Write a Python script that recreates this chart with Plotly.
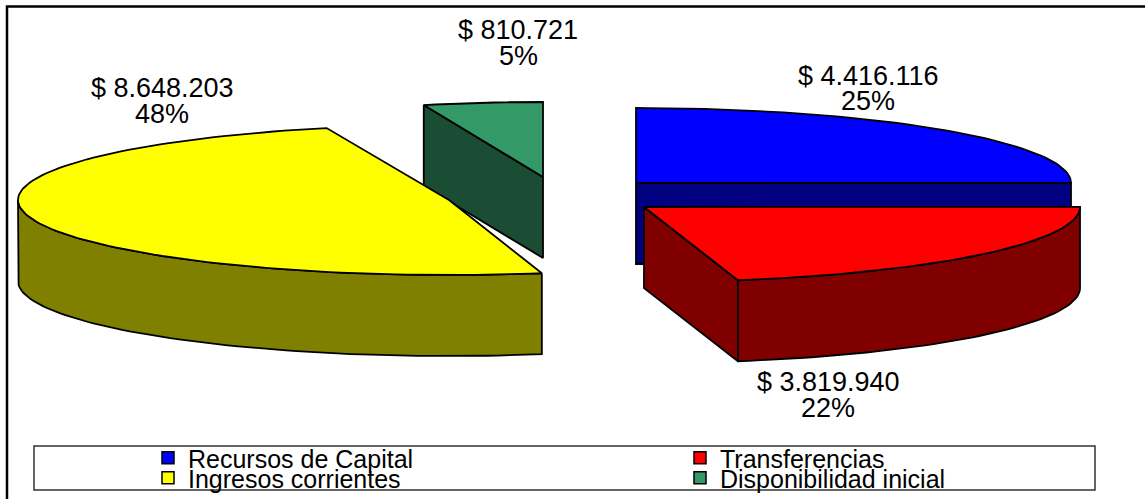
import math
import plotly.graph_objects as go

# ---- data ----
categories = ["Recursos de Capital", "Transferencias", "Ingresos corrientes", "Disponibilidad inicial"]
values = [4416116, 3819940, 8648203, 810721]
value_labels = ["$ 4.416.116", "$ 3.819.940", "$ 8.648.203", "$ 810.721"]
percent_labels = ["25%", "22%", "48%", "5%"]

# ---- styles and layout ----
W, H = 1145, 499
top_colors = ["#0000FF", "#FF0000", "#FFFF00", "#339966"]
wall_colors = ["#000080", "#800000", "#808000", "#1A4D33"]
centers = [(636, 183), (644, 207), (449, 200), (543, 177)]
radii = [435, 436, 431, 420]
RY, DEPTH = 75, 81
draw_order = [3, 2, 0, 1]
label_pos = [(868, 75.5, 101), (828, 382, 408), (162, 87.5, 114), (518, 30, 56)]
legend_pos = [(148, 458), (680, 458), (148, 478), (680, 478)]
FONT = "Liberation Sans"
LW = 1.8


def pt(c, rx, deg, drop=0):
    a = math.radians(deg)
    return c[0] + rx * math.sin(a), c[1] - RY * math.cos(a) + drop


def arc(c, rx, a0, a1, drop=0):
    n = max(2, int(abs(a1 - a0) / 1.5) + 1)
    return [pt(c, rx, a0 + (a1 - a0) * i / (n - 1), drop) for i in range(n)]


def poly(fig, points, fill):
    xs = [p[0] for p in points] + [points[0][0]]
    ys = [p[1] for p in points] + [points[0][1]]
    fig.add_trace(go.Scatter(x=xs, y=ys, mode="lines", fill="toself", fillcolor=fill,
                             line=dict(color="black", width=LW), showlegend=False,
                             hoverinfo="skip"))


fig = go.Figure()
total = sum(values)
angles = [0]
for v in values:
    angles.append(angles[-1] + 360 * v / total)

for i in draw_order:
    c = centers[i]
    rx = radii[i]
    a0, a1 = angles[i], angles[i + 1]
    lo, hi = max(a0, 90), min(a1, 270)
    # cut faces that look towards the viewer
    if 180 < a0 < 360:
        e = pt(c, rx, a0)
        poly(fig, [c, e, (e[0], e[1] + DEPTH), (c[0], c[1] + DEPTH)], wall_colors[i])
    if 0 < a1 < 180:
        e = pt(c, rx, a1)
        poly(fig, [c, e, (e[0], e[1] + DEPTH), (c[0], c[1] + DEPTH)], wall_colors[i])
    # outer rim
    if hi > lo:
        poly(fig, arc(c, rx, lo, hi) + arc(c, rx, hi, lo, DEPTH), wall_colors[i])
    # top face
    poly(fig, [c] + arc(c, rx, a0, a1), top_colors[i])

# outer frame (left and top only) and legend box
fig.add_shape(type="path", path=f"M 7,{H} L 7,6.5 L {W},6.5", line=dict(color="black", width=2.5), layer="below")
fig.add_shape(type="rect", x0=34, y0=446, x1=1095, y1=490, line=dict(color="#333333", width=1.5), layer="below")

# value and percent labels
annos = []
for i in range(len(categories)):
    x, y1, y2 = label_pos[i]
    for txt, y in ((value_labels[i], y1), (percent_labels[i], y2)):
        annos.append(dict(x=x, y=y, text=txt, showarrow=False, xanchor="center", yanchor="middle",
                          font=dict(family=FONT, size=27, color="black")))

# one legend per entry so the rows can sit as tight as in the reference
legends = {}
for i, name in enumerate(categories):
    key = "legend" if i == 0 else f"legend{i + 1}"
    fig.add_trace(go.Scatter(x=[None], y=[None], mode="markers", name=name, legend=key,
                             marker=dict(symbol="square", size=12, color=top_colors[i],
                                         line=dict(color="black", width=1.5))))
    lx, ly = legend_pos[i]
    legends[key] = dict(x=lx / W, y=1 - ly / H, xanchor="left", yanchor="middle",
                        bgcolor="rgba(0,0,0,0)", borderwidth=0, itemclick=False, itemdoubleclick=False,
                        font=dict(family=FONT, size=25, color="black"))

fig.update_layout(width=W, height=H, margin=dict(l=0, r=0, t=0, b=0, autoexpand=False),
                  paper_bgcolor="white", plot_bgcolor="white", annotations=annos,
                  showlegend=True, **legends,
                  xaxis=dict(range=[0, W], visible=False, fixedrange=True),
                  yaxis=dict(range=[H, 0], visible=False, fixedrange=True))

fig.write_html("out.html", config={"displayModeBar": False},
               post_script="document.body.style.margin='0';")
